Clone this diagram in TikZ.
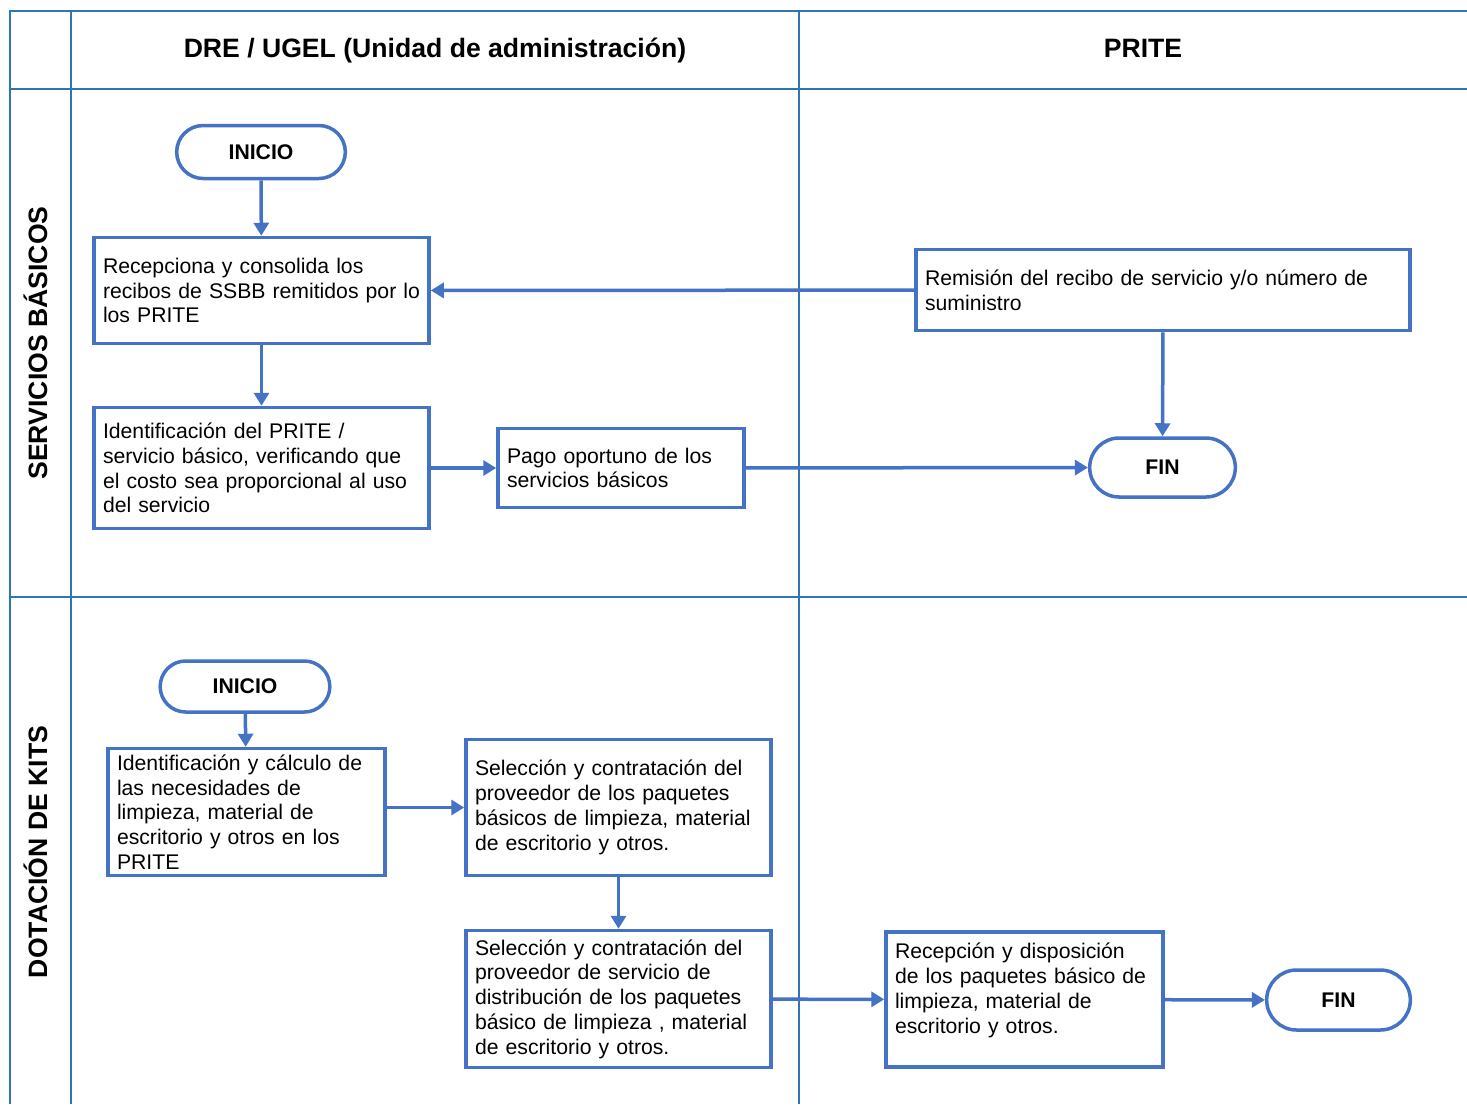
\documentclass[tikz,border=0pt]{standalone}
\usepackage{fontspec}
\setmainfont{Liberation Sans}
\usetikzlibrary{arrows.meta,shapes.misc,positioning}
\definecolor{lineablue}{HTML}{2E75B6}
\definecolor{cajablue}{HTML}{4472C4}
\begin{document}
\begin{tikzpicture}[x=0.5pt, y=-0.5pt,
    tabla/.style={lineablue, line width=1pt},
    caja/.style 2 args={draw=cajablue, line width=1.75pt, rectangle, align=left,
        inner xsep=4.5pt, inner ysep=1pt, text width=#1, minimum height=#2,
        font=\fontsize{10.6}{12.4}\selectfont},
    terminal/.style 2 args={draw=cajablue, line width=1.75pt, rounded rectangle,
        minimum width=#1, minimum height=#2, font=\fontsize{10.6}{12.4}\selectfont\bfseries},
    flujo/.style={cajablue, line width=1.75pt, -{Triangle[length=6.5pt,width=7.5pt]}},
    titulo/.style={font=\fontsize{13.3}{16}\selectfont\bfseries, text height=10pt, text depth=3pt}]
                \useasboundingbox (0,0) rectangle (1467,1104);
                % tabla de carriles
                \draw [tabla] (1467,11) -- (10,11) -- (10,1104);
                \draw [tabla] (10,89) -- (1467,89);
                \draw [tabla] (10,597) -- (1467,597);
                \draw [tabla] (71,11) -- (71,1104);
                \draw [tabla] (799,11) -- (799,1104);
                \node [titulo] (colDRE) at (435,50) {DRE / UGEL (Unidad de administración)};
                \node [titulo] (colPRITE) at (1143,50) {PRITE};
                \node [titulo, rotate=90] (filaSB) at (40,343) {SERVICIOS BÁSICOS};
                \node [titulo, rotate=90] (filaKits) at (40,852) {DOTACIÓN DE KITS};
                % servicios basicos
                \node [terminal={91pt}{26.5pt}] (inicioA) at (261,152) {INICIO};
                \node [caja={158.5pt}{53pt}] (recep) at (261.5,290.5)
                    {Recepciona y consolida los\\recibos de SSBB remitidos por lo\\los PRITE};
                \node [caja={158.5pt}{60.5pt}] (ident) at (261.5,468)
                    {Identificación del PRITE /\\servicio básico, verificando que\\el costo sea proporcional al uso\\del servicio};
                \node [caja={114pt}{39.5pt}] (pago) at (621,468)
                    {Pago oportuno de los\\servicios básicos};
                \node [caja={238pt}{40.5pt}] (remision) at (1163,290)
                    {Remisión del recibo de servicio y/o número de\\suministro};
                \node [terminal={79.5pt}{29.5pt}] (finA) at (1162.5,467.5) {FIN};
                \draw [flujo] (inicioA) -- (recep);
                \draw [flujo] (remision) -- (recep);
                \draw [flujo] (recep) -- (ident);
                \draw [flujo] (ident) -- (pago);
                \draw [flujo] (pago) -- (finA);
                \draw [flujo] (remision) -- (finA);
                % dotacion de kits
                \node [terminal={91.5pt}{25.5pt}] (inicioB) at (245,686.5) {INICIO};
                \node [caja={129.5pt}{63.5pt}] (calculo) at (246.5,812)
                    {Identificación y cálculo de\\las necesidades de\\limpieza, material de\\escritorio y otros en los\\PRITE};
                \node [caja={143.5pt}{68pt}] (seleccionA) at (618.5,807.5)
                    {Selección y contratación del\\proveedor de los paquetes\\básicos de limpieza, material\\de escritorio y otros.};
                \node [caja={143.5pt}{68.5pt}] (seleccionB) at (618.5,999)
                    {Selección y contratación del\\proveedor de servicio de\\distribución de los paquetes\\básico de limpieza , material\\de escritorio y otros.};
                \node [caja={129.5pt}{67.5pt}] (recepcion) at (1024.5,999.5)
                    {Recepción y disposición\\de los paquetes básico de\\limpieza, material de\\escritorio y otros.\\[-1pt]\mbox{}};
                \node [terminal={78.5pt}{30pt}] (finB) at (1338.5,1000) {FIN};
                \draw [flujo] (inicioB) -- (calculo);
                \draw [flujo] (calculo.east |- seleccionA.west) -- (seleccionA.west);
                \draw [flujo] (seleccionA) -- (seleccionB);
                \draw [flujo] (seleccionB) -- (recepcion);
                \draw [flujo] (recepcion) -- (finB);
\end{tikzpicture}
\end{document}
